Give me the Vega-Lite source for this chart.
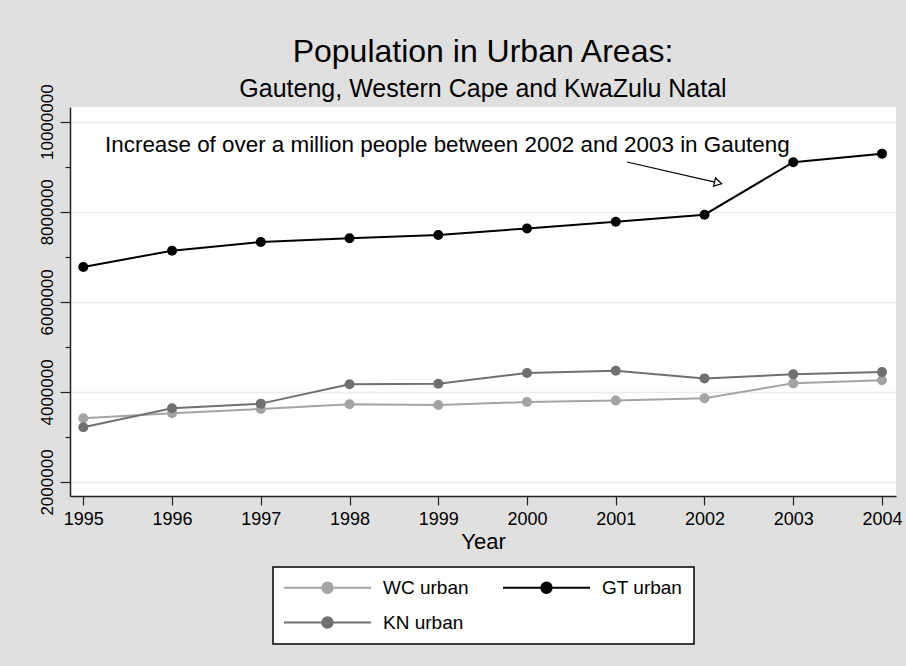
{
  "$schema": "https://vega.github.io/schema/vega-lite/v6.json",
  "width": 826,
  "height": 389,
  "autosize": {"type": "none"},
  "padding": {"left": 70, "top": 107, "right": 10, "bottom": 170},
  "background": "#e0e0e0",
  "config": {"font": "Liberation Sans", "view": {"fill": "white", "stroke": null}},
  "title": {
    "text": "Population in Urban Areas:",
    "subtitle": "Gauteng, Western Cape and KwaZulu Natal",
    "fontSize": 32,
    "fontWeight": "normal",
    "color": "black",
    "subtitleFontSize": 25,
    "subtitleColor": "black",
    "subtitlePadding": 8,
    "anchor": "middle",
    "offset": -19
  },
  "datasets": {
    "pop": [
      {"year": 1995, "series": "WC urban", "pop": 3415000},
      {"year": 1996, "series": "WC urban", "pop": 3526000},
      {"year": 1997, "series": "WC urban", "pop": 3620000},
      {"year": 1998, "series": "WC urban", "pop": 3726000},
      {"year": 1999, "series": "WC urban", "pop": 3710000},
      {"year": 2000, "series": "WC urban", "pop": 3775000},
      {"year": 2001, "series": "WC urban", "pop": 3810000},
      {"year": 2002, "series": "WC urban", "pop": 3860000},
      {"year": 2003, "series": "WC urban", "pop": 4190000},
      {"year": 2004, "series": "WC urban", "pop": 4260000},
      {"year": 1995, "series": "GT urban", "pop": 6774000},
      {"year": 1996, "series": "GT urban", "pop": 7136000},
      {"year": 1997, "series": "GT urban", "pop": 7330000},
      {"year": 1998, "series": "GT urban", "pop": 7410000},
      {"year": 1999, "series": "GT urban", "pop": 7485000},
      {"year": 2000, "series": "GT urban", "pop": 7630000},
      {"year": 2001, "series": "GT urban", "pop": 7780000},
      {"year": 2002, "series": "GT urban", "pop": 7935000},
      {"year": 2003, "series": "GT urban", "pop": 9100000},
      {"year": 2004, "series": "GT urban", "pop": 9290000},
      {"year": 1995, "series": "KN urban", "pop": 3215000},
      {"year": 1996, "series": "KN urban", "pop": 3636000},
      {"year": 1997, "series": "KN urban", "pop": 3740000},
      {"year": 1998, "series": "KN urban", "pop": 4170000},
      {"year": 1999, "series": "KN urban", "pop": 4183000},
      {"year": 2000, "series": "KN urban", "pop": 4420000},
      {"year": 2001, "series": "KN urban", "pop": 4470000},
      {"year": 2002, "series": "KN urban", "pop": 4300000},
      {"year": 2003, "series": "KN urban", "pop": 4390000},
      {"year": 2004, "series": "KN urban", "pop": 4440000}
    ],
    "note": [
      {"year": 1995.245, "pop": 9334000, "label": "Increase of over a million people between 2002 and 2003 in Gauteng"}
    ],
    "arrow": [
      {"year": 2001.127, "pop": 9105000, "year2": 2002.153, "pop2": 8641000}
    ]
  },
  "layer": [
    {
      "data": {"name": "pop"},
      "mark": {"type": "line", "strokeWidth": 2},
      "encoding": {
        "x": {
          "field": "year",
          "type": "quantitative",
          "scale": {"domain": [1994.85, 2004.158], "nice": false, "zero": false},
          "axis": {
            "values": [1995, 1996, 1997, 1998, 1999, 2000, 2001, 2002, 2003, 2004],
            "format": "d",
            "labelFontSize": 18,
            "labelColor": "black",
            "labelFlush": false,
            "labelPadding": 5,
            "tickSize": 9,
            "tickColor": "#222222",
            "tickWidth": 1.2,
            "domainColor": "#222222",
            "domainWidth": 1.5,
            "grid": false,
            "title": "Year",
            "titleFontSize": 22,
            "titleFontWeight": "normal",
            "titleColor": "black",
            "titlePadding": 3
          }
        },
        "y": {
          "field": "pop",
          "type": "quantitative",
          "scale": {"domain": [1689000, 10326000], "nice": false, "zero": false},
          "axis": {
            "values": [2000000, 2500000, 3000000, 3500000, 4000000, 4500000, 5000000, 5500000, 6000000, 6500000, 7000000, 7500000, 8000000, 8500000, 9000000, 9500000, 10000000],
            "format": "d",
            "labelExpr": "datum.value % 2000000 === 0 ? datum.label : ''",
            "labelAngle": -90,
            "labelAlign": "center",
            "labelBaseline": "bottom",
            "labelFontSize": 17,
            "labelColor": "black",
            "labelPadding": 4,
            "labelOverlap": false,
            "labelFlush": false,
            "tickSize": {"condition": {"test": "datum.value % 2000000 === 0", "value": 10}, "value": 5},
            "tickColor": "#222222",
            "tickWidth": 1.2,
            "domainColor": "#222222",
            "domainWidth": 1.5,
            "grid": true,
            "gridColor": "#e6eff0",
            "gridWidth": 1.5,
            "gridOpacity": {"condition": {"test": "datum.value % 2000000 === 0", "value": 1}, "value": 0},
            "title": null
          }
        },
        "color": {
          "field": "series",
          "type": "nominal",
          "scale": {"domain": ["WC urban", "GT urban", "KN urban"], "range": ["#a4a4a4", "#000000", "#707070"]},
          "legend": {
            "orient": "none",
            "legendX": 203,
            "legendY": 460,
            "direction": "horizontal",
            "columns": 2,
            "title": null,
            "fillColor": "white",
            "strokeColor": "black",
            "padding": 11,
            "labelFontSize": 19,
            "labelColor": "black",
            "symbolSize": 100,
            "symbolType": "M-8.7,0H8.7M-1.04,0A1.04,1.04 0 1,0 1.04,0A1.04,1.04 0 1,0 -1.04,0Z",
            "symbolOffset": 34,
            "labelOffset": 46,
            "columnPadding": 30,
            "rowPadding": 15,
            "encode": {
              "legend": {"update": {"strokeWidth": {"value": 1.5}}},
              "symbols": {
                "update": {
                  "size": {"value": 100},
                  "fill": {"scale": "color", "field": "value"},
                  "stroke": {"scale": "color", "field": "value"},
                  "strokeWidth": {"value": 2},
                  "opacity": {"value": 1}
                }
              }
            }
          }
        }
      }
    },
    {
      "data": {"name": "pop"},
      "mark": {"type": "point", "filled": true, "size": 100, "opacity": 1},
      "encoding": {
        "x": {"field": "year", "type": "quantitative"},
        "y": {"field": "pop", "type": "quantitative"},
        "color": {"field": "series", "type": "nominal"}
      }
    },
    {
      "data": {"name": "note"},
      "mark": {"type": "text", "align": "left", "baseline": "alphabetic", "fontSize": 22.4, "color": "black"},
      "encoding": {
        "x": {"field": "year", "type": "quantitative"},
        "y": {"field": "pop", "type": "quantitative"},
        "text": {"field": "label"}
      }
    },
    {
      "data": {"name": "arrow"},
      "mark": {"type": "rule", "color": "black", "strokeWidth": 1.2},
      "encoding": {
        "x": {"field": "year", "type": "quantitative"},
        "y": {"field": "pop", "type": "quantitative"},
        "x2": {"field": "year2"},
        "y2": {"field": "pop2"}
      }
    },
    {
      "data": {"name": "arrow"},
      "mark": {"type": "point", "shape": "triangle-right", "angle": 13, "filled": true, "fill": "white", "stroke": "black", "strokeWidth": 1.2, "size": 70, "opacity": 1},
      "encoding": {
        "x": {"field": "year2", "type": "quantitative"},
        "y": {"field": "pop2", "type": "quantitative"}
      }
    }
  ]
}
